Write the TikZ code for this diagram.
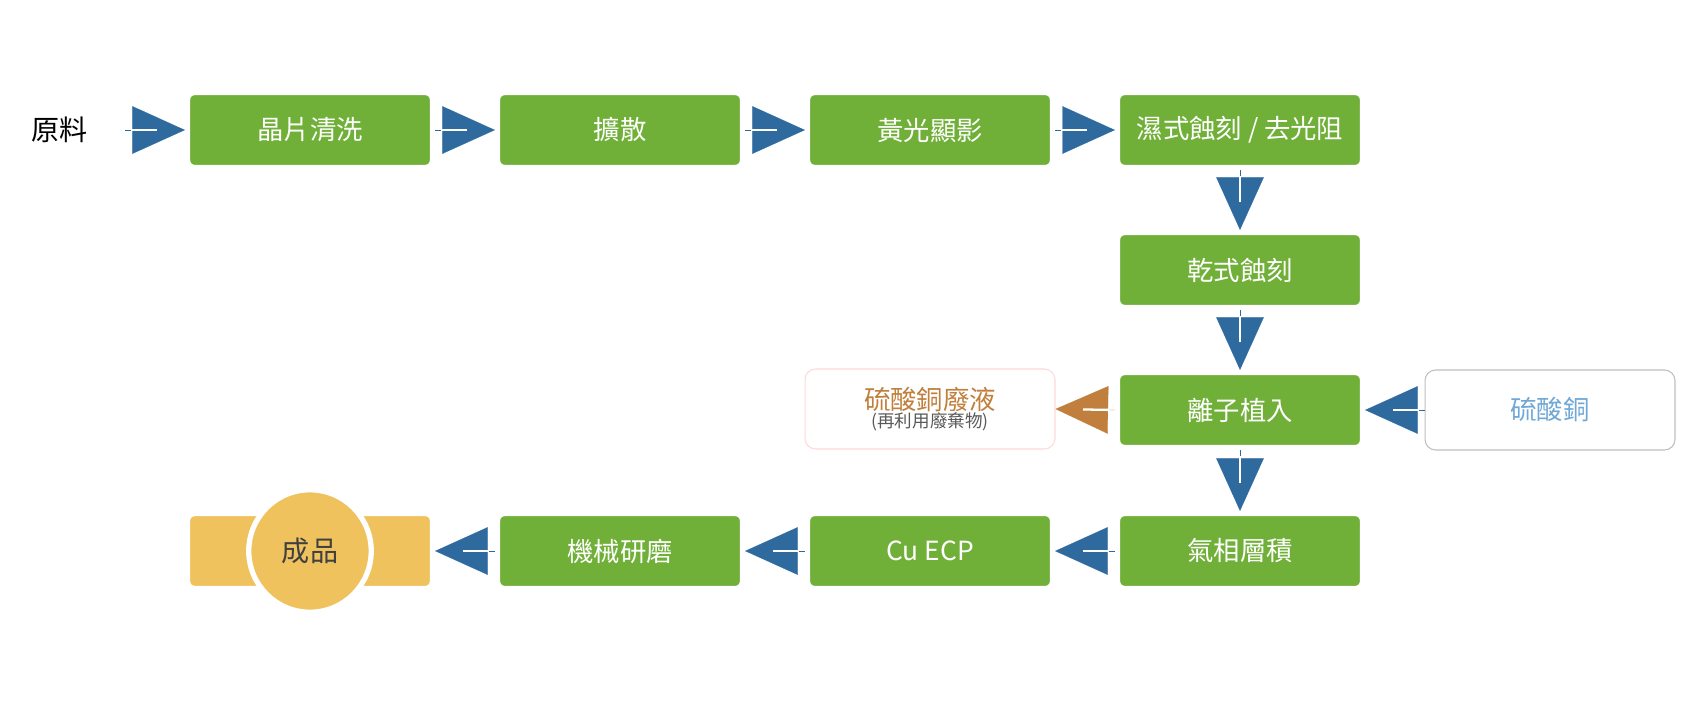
\documentclass[tikz,border=0pt]{standalone}
\usepackage{fontspec}
\setmainfont{Noto Sans CJK TC}
\usetikzlibrary{arrows.meta,shadows}
\definecolor{stepgreen}{HTML}{70B038}
\definecolor{flowblue}{HTML}{2E6A9E}
\definecolor{wasteorange}{HTML}{C07F3C}
\definecolor{inblue}{HTML}{6FA8D6}
\definecolor{goldfill}{HTML}{F0C25E}
\tikzset{
  stage/.style={rectangle, rounded corners=4pt, fill=stepgreen, draw=white, line width=3pt,
    minimum width=4.9cm, minimum height=1.5cm, text=white, font=\fontsize{15}{18}\selectfont,
    drop shadow={opacity=0.35, shadow xshift=0pt, shadow yshift=0pt, shadow scale=1.015}},
  side/.style={rectangle, rounded corners=6pt, fill=white, draw=#1, line width=0.6pt,
    minimum width=5cm, minimum height=1.6cm, align=center},
  flow/.style={draw=#1, line width=0.1pt, -{Triangle[length=1.05cm,width=0.95cm]},
    postaction={draw=white, line width=1.3pt, -{}, shorten <=0.12cm, shorten >=0.55cm}},
  flow/.default=flowblue
}
\begin{document}
\begin{tikzpicture}[x=0.02cm,y=-0.02cm]
  \useasboundingbox (0,0) rectangle (1700,700);
  % first row
  \node[font=\fontsize{16}{19}\selectfont] (raw) at (60,130) {原料};
  \coordinate (rawend) at (125,130);
  \node[stage] (clean) at (310,130) {晶片清洗};
  \node[stage] (diffuse) at (620,130) {擴散};
  \node[stage] (litho) at (930,130) {黃光顯影};
  \node[stage] (wet) at (1240,130) {濕式蝕刻 / 去光阻};
  % right column
  \node[stage] (dry) at (1240,270) {乾式蝕刻};
  \node[stage] (implant) at (1240,410) {離子植入};
  \node[side=red!15] (waste) at (930,409) {{\fontsize{15}{18}\selectfont\color{wasteorange}硫酸銅廢液}\\[-2pt]{\fontsize{10}{12}\selectfont\color{black!65}(再利用廢棄物)}};
  \node[side=black!25, font=\fontsize{15}{18}\selectfont, text=inblue] (cuso) at (1550,410) {硫酸銅};
  % bottom row
  \node[stage] (cvd) at (1240,551) {氣相層積};
  \node[stage] (ecp) at (930,551) {Cu ECP};
  \node[stage] (cmp) at (620,551) {機械研磨};
  \node[stage, fill=goldfill] (done) at (310,551) {};
  \node[circle, fill=goldfill, draw=white, line width=3pt, minimum size=2.45cm,
    font=\fontsize{16}{19}\selectfont, text=black!75,
    drop shadow={opacity=0.35, shadow xshift=0pt, shadow yshift=0pt, shadow scale=1.02}] (product) at (310,551) {成品};
  % connectors
  \draw[flow] (rawend) -- (clean.west);
  \draw[flow] (clean.east) -- (diffuse.west);
  \draw[flow] (diffuse.east) -- (litho.west);
  \draw[flow] (litho.east) -- (wet.west);
  \draw[flow] (wet.south) -- (dry.north);
  \draw[flow] (dry.south) -- (implant.north);
  \draw[flow] (implant.south) -- (cvd.north);
  \draw[flow] (cuso.west) -- (implant.east);
  \draw[flow=wasteorange] (implant.west) -- (waste.east);
  \draw[flow] (cvd.west) -- (ecp.east);
  \draw[flow] (ecp.west) -- (cmp.east);
  \draw[flow] (cmp.west) -- (done.east);
\end{tikzpicture}
\end{document}
